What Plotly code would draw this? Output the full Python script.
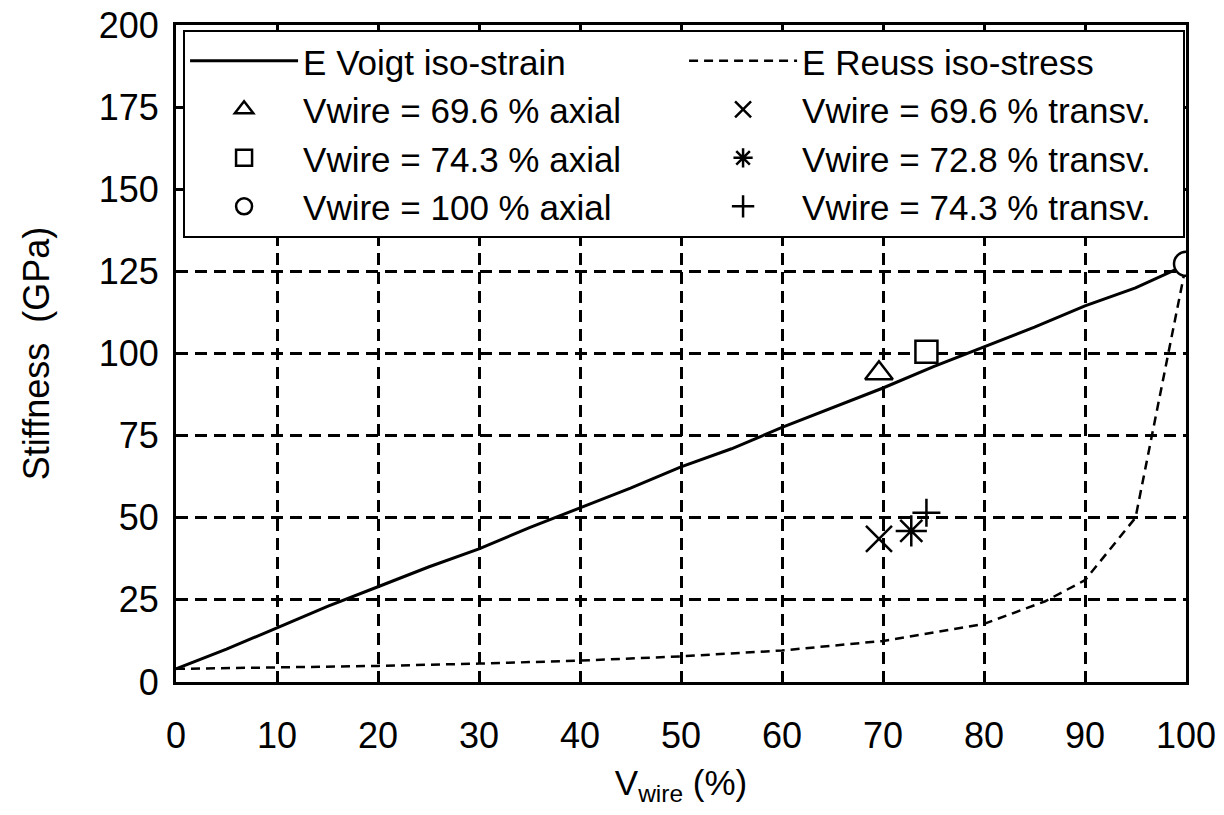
import plotly.graph_objects as go

# Data
vf_voigt = [0, 5, 10, 15, 20, 25, 30, 35, 40, 45, 50, 55, 60, 65, 70, 75, 80, 85, 90, 95, 100]
e_voigt = [4, 10, 16.5, 23, 29, 35, 40.5, 47, 53, 59, 65.5, 71, 77.5, 83.5, 89.5, 96, 102, 108, 114.5, 120, 127]

vf_reuss = [0, 10, 20, 30, 40, 50, 60, 70, 80, 86, 90, 95, 100]
e_reuss = [4, 4.4, 4.9, 5.6, 6.5, 7.8, 9.6, 12.5, 17.7, 24.5, 31, 50, 127]

ax_69 = [69.6]; ax_69_e = [94]
ax_74 = [74.3]; ax_74_e = [100.5]
ax_100 = [100]; ax_100_e = [127.3]
tr_69 = [69.6]; tr_69_e = [43.6]
tr_73 = [72.8]; tr_73_e = [46]
tr_74 = [74.3]; tr_74_e = [51.5]

x_ticks = list(range(0, 101, 10))
y_ticks = list(range(0, 201, 25))

FONT = "Liberation Sans"
fig = go.Figure()
fig.add_trace(go.Scatter(x=vf_voigt, y=e_voigt, mode="lines", name="E Voigt iso-strain",
                         line=dict(color="black", width=3)))
fig.add_trace(go.Scatter(x=vf_reuss, y=e_reuss, mode="lines", name="E Reuss iso-stress",
                         line=dict(color="black", width=2.5, dash="9px,6px")))
mk = dict(color="white", line=dict(color="black", width=2.5))
thin = dict(color="black", line=dict(color="black", width=2.5))
fig.add_trace(go.Scatter(x=ax_69, y=ax_69_e, mode="markers", name="Vwire = 69.6 % axial",
                         marker=dict(symbol="triangle-up", size=24, **mk)))
fig.add_trace(go.Scatter(x=tr_69, y=tr_69_e, mode="markers", name="Vwire = 69.6 % transv.",
                         marker=dict(symbol="x-thin-open", size=26, **thin)))
fig.add_trace(go.Scatter(x=ax_74, y=ax_74_e, mode="markers", name="Vwire = 74.3 % axial",
                         marker=dict(symbol="square", size=22, **mk)))
fig.add_trace(go.Scatter(x=tr_73, y=tr_73_e, mode="markers", name="Vwire = 72.8 % transv.",
                         marker=dict(symbol="asterisk-open", size=26, **thin)))
fig.add_trace(go.Scatter(x=ax_100, y=ax_100_e, mode="markers", name="Vwire = 100 % axial",
                         marker=dict(symbol="circle", size=24, **mk)))
fig.add_trace(go.Scatter(x=tr_74, y=tr_74_e, mode="markers", name="Vwire = 74.3 % transv.",
                         marker=dict(symbol="cross-thin-open", size=20, **thin)))

axis_common = dict(showline=True, linecolor="black", linewidth=3, mirror=True,
                   showgrid=True, gridcolor="black", gridwidth=2.5, griddash="12px,7px",
                   zeroline=False, ticks="", ticklabeloverflow="allow", automargin=False,
                   tickfont=dict(family=FONT, size=36, color="black"))
fig.update_xaxes(range=[0, 100], tickvals=x_ticks, ticklabelstandoff=20,
                 title=dict(text="V<sub>wire</sub> (%)", font=dict(family=FONT, size=35, color="black"), standoff=23),
                 **axis_common)
fig.update_yaxes(range=[0, 200], tickvals=y_ticks, ticklabelstandoff=7,
                 title=dict(text="Stiffness  (GPa)", font=dict(family=FONT, size=36, color="black"), standoff=39),
                 **axis_common)
fig.update_layout(
    width=1208, height=799,
    margin=dict(l=168, r=30, t=17, b=125),
    plot_bgcolor="white", paper_bgcolor="white",
    font=dict(family=FONT, color="black"),
    legend=dict(orientation="h", x=0.007, y=0.993, xanchor="left", yanchor="top",
                bgcolor="white", bordercolor="black", borderwidth=2,
                font=dict(family=FONT, size=35, color="black"),
                entrywidth=376, entrywidthmode="pixels", tracegroupgap=0,
                itemwidth=108),
)
fig.write_html("out.html")
